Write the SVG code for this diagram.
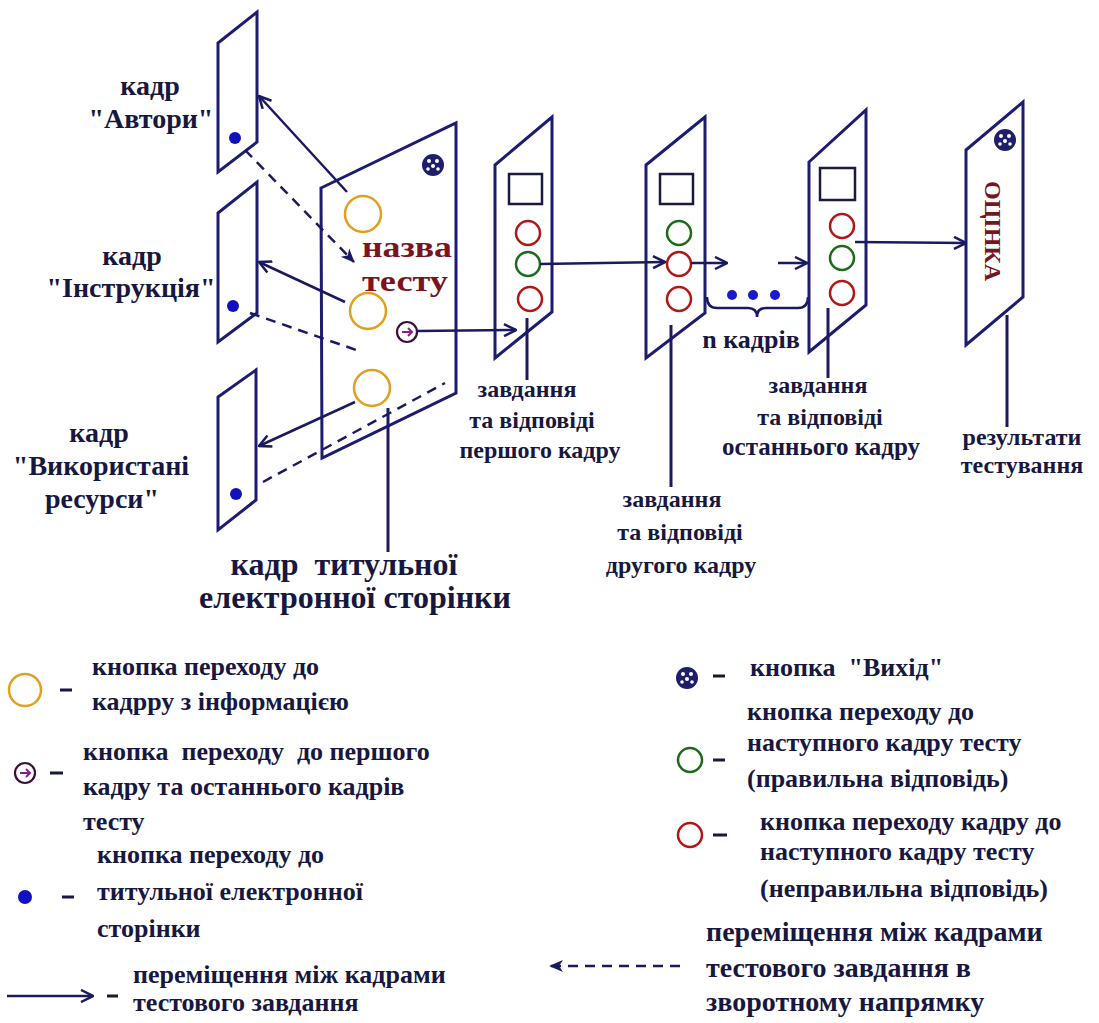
<svg xmlns="http://www.w3.org/2000/svg" width="1099" height="1023" viewBox="0 0 1099 1023">
  <defs>
    <style>
      .frame { fill: none; stroke: #1c1c70; stroke-width: 3; stroke-linejoin: miter; }
      .lbl { font-family: "Liberation Serif", "Times New Roman", serif; font-weight: bold; fill: #17173f; }
      .big { font-size: 32px; }
      .mid { font-size: 28px; }
      .leg { font-size: 26px; }
      .sm { font-size: 24px; }
      .title { font-family: "Liberation Serif", "Times New Roman", serif; font-weight: bold; fill: #7a1420; }
      .arrow { fill: none; stroke: #1a1a60; stroke-width: 2.5; marker-end: url(#chev); }
      .back { fill: none; stroke: #1a1a60; stroke-width: 2.5; stroke-dasharray: 10 7; }
      .callout { fill: none; stroke: #1a1a60; stroke-width: 3; }
      .info { fill: none; stroke: #e0a020; stroke-width: 2.5; }
      .wrong { fill: none; stroke: #b01818; stroke-width: 2.5; }
      .right { fill: none; stroke: #1b6b1b; stroke-width: 2.5; }
      .home { fill: #1010c0; }
      .dash { stroke: #17173f; stroke-width: 3; }
    </style>
    <marker id="chev" viewBox="0 0 14 14" refX="13" refY="7" markerWidth="14" markerHeight="14" orient="auto" markerUnits="userSpaceOnUse">
      <path d="M1,1 L13,7 L1,13" fill="none" stroke="#1a1a60" stroke-width="2.5"/>
    </marker>
    <marker id="solidhead" viewBox="0 0 14 14" refX="13" refY="7" markerWidth="14" markerHeight="14" orient="auto" markerUnits="userSpaceOnUse">
      <path d="M0,1 L14,7 L0,13 L4,7 Z" fill="#1a1a60"/>
    </marker>
    <g id="exitbtn">
      <circle r="11" fill="#1e1e6a"/>
      <circle cx="-4" cy="-4" r="2" fill="#ffffff"/>
      <circle cx="4" cy="-4" r="2" fill="#ffffff"/>
      <circle cx="0" cy="1" r="2" fill="#ffffff"/>
      <circle cx="-5" cy="4" r="1.8" fill="#ffffff"/>
      <circle cx="5" cy="4" r="1.8" fill="#ffffff"/>
    </g>
    <g id="nextbtn">
      <circle r="10" fill="none" stroke="#3b0f3b" stroke-width="2.2"/>
      <path d="M-5,0 L5,0 M1,-4 L5,0 L1,4" fill="none" stroke="#8a2080" stroke-width="2"/>
    </g>
  </defs>

  <rect width="1099" height="1023" fill="#ffffff"/>

  <!-- side information frames -->
  <g id="frame-authors">
    <polygon class="frame" points="218,43 257,12 257,142 218,172"/>
    <circle class="home" cx="235" cy="138" r="6"/>
    <text class="lbl mid" text-anchor="middle" x="150" y="95">кадр</text>
    <text class="lbl mid" text-anchor="middle" x="151" y="128">"Автори"</text>
  </g>

  <g id="frame-instruction">
    <polygon class="frame" points="218,213 257,182 257,313 218,342"/>
    <circle class="home" cx="233" cy="306" r="6"/>
    <text class="lbl mid" text-anchor="middle" x="132" y="265">кадр</text>
    <text class="lbl mid" text-anchor="middle" x="131" y="297">"Інструкція"</text>
  </g>

  <g id="frame-resources">
    <polygon class="frame" points="218,397 256,370 256,500 218,530"/>
    <circle class="home" cx="236" cy="494" r="6"/>
    <text class="lbl mid" text-anchor="middle" x="99" y="442">кадр</text>
    <text class="lbl mid" text-anchor="middle" x="101" y="475">"Використані</text>
    <text class="lbl mid" text-anchor="middle" x="102" y="508">ресурси"</text>
  </g>

  <!-- title page -->
  <g id="title-page">
    <polygon class="frame" points="321,188 456,123 456,393 322,458"/>
    <use href="#exitbtn" x="433" y="165"/>
    <circle class="info" cx="363" cy="214" r="18"/>
    <circle class="info" cx="368" cy="311" r="18"/>
    <circle class="info" cx="372" cy="388" r="18"/>
    <use href="#nextbtn" x="407" y="332"/>
    <text class="title" font-size="30" x="362" y="257" textLength="90" lengthAdjust="spacingAndGlyphs">назва</text>
    <text class="title" font-size="30" x="362" y="291" textLength="86" lengthAdjust="spacingAndGlyphs">тесту</text>
    <text class="lbl big" text-anchor="middle" x="344" y="575" xml:space="preserve">кадр  титульної</text>
    <text class="lbl big" text-anchor="middle" x="355" y="608">електронної сторінки</text>
  </g>

  <!-- test task frames -->
  <g id="task-first">
    <polygon class="frame" points="495,165 552,117 552,312 495,358"/>
    <rect x="509" y="174" width="33" height="30" fill="none" stroke="#1a1a40" stroke-width="2.5"/>
    <circle class="wrong" cx="528" cy="233" r="12"/>
    <circle class="right" cx="528" cy="264" r="12"/>
    <circle class="wrong" cx="530" cy="299" r="12" stroke="#c03a18"/>
    <text class="lbl sm" text-anchor="middle" x="527" y="397">завдання</text>
    <text class="lbl sm" text-anchor="middle" x="532" y="428">та відповіді</text>
    <text class="lbl sm" text-anchor="middle" x="540" y="458">першого кадру</text>
  </g>

  <g id="task-second">
    <polygon class="frame" points="646,165 705,117 705,313 646,358"/>
    <rect x="660" y="174" width="33" height="30" fill="none" stroke="#1a1a40" stroke-width="2.5"/>
    <circle class="right" cx="679" cy="233" r="12"/>
    <circle class="wrong" cx="679" cy="264" r="12"/>
    <circle class="wrong" cx="679" cy="299" r="12"/>
    <text class="lbl sm" text-anchor="middle" x="672" y="507">завдання</text>
    <text class="lbl sm" text-anchor="middle" x="680" y="540">та відповіді</text>
    <text class="lbl sm" text-anchor="middle" x="681" y="573">другого кадру</text>
  </g>

  <g id="task-gap">
    <circle cx="732" cy="295" r="5" fill="#1a1acc"/>
    <circle cx="753" cy="295" r="5" fill="#1a1acc"/>
    <circle cx="775" cy="295" r="5" fill="#1a1acc"/>
    <path d="M707,297 Q707,308 717,308 L748,308 Q757,308 757,317 Q757,308 766,308 L798,308 Q808,308 808,297" fill="none" stroke="#1a1a60" stroke-width="2.5"/>
    <text class="lbl" font-size="26" text-anchor="middle" x="751" y="348">n кадрів</text>
  </g>

  <g id="task-last">
    <polygon class="frame" points="809,162 866,110 866,305 809,352"/>
    <rect x="820" y="168" width="35" height="32" fill="none" stroke="#1a1a40" stroke-width="2.5"/>
    <circle class="wrong" cx="842" cy="226" r="12"/>
    <circle class="right" cx="842" cy="258" r="12"/>
    <circle class="wrong" cx="842" cy="293" r="12"/>
    <text class="lbl sm" text-anchor="middle" x="818" y="393">завдання</text>
    <text class="lbl sm" text-anchor="middle" x="820" y="425">та відповіді</text>
    <text class="lbl" font-size="25" text-anchor="middle" x="821" y="455">останнього кадру</text>
  </g>

  <g id="result">
    <polygon class="frame" points="966,150 1023,102 1023,297 966,345"/>
    <use href="#exitbtn" x="1005" y="140"/>
    <text class="title" font-size="24" text-anchor="middle" transform="translate(985,231) rotate(90)" x="0" y="0">ОЦІНКА</text>
    <text class="lbl sm" text-anchor="middle" x="1022" y="445">результати</text>
    <text class="lbl sm" text-anchor="middle" x="1022" y="473">тестування</text>
  </g>

  <!-- connectors -->
  <g id="connectors">
    <line class="arrow" x1="347" y1="192" x2="259" y2="96"/>
    <line class="arrow" x1="345" y1="302" x2="259" y2="262"/>
    <line class="arrow" x1="355" y1="402" x2="259" y2="446"/>
    <line class="back" x1="245" y1="150" x2="354" y2="262" marker-end="url(#solidhead)"/>
    <line class="back" x1="250" y1="313" x2="362" y2="352"/>
    <line class="back" x1="263" y1="482" x2="445" y2="383"/>
    <line class="arrow" x1="418" y1="331" x2="516" y2="330"/>
    <line class="arrow" x1="540" y1="264" x2="665" y2="262"/>
    <line class="arrow" x1="691" y1="263" x2="727" y2="263"/>
    <line class="arrow" x1="778" y1="263" x2="807" y2="263"/>
    <line class="arrow" x1="855" y1="242" x2="966" y2="243"/>
    <line class="callout" x1="388" y1="408" x2="388" y2="552"/>
    <line class="callout" x1="527" y1="318" x2="527" y2="380"/>
    <line class="callout" x1="671" y1="325" x2="671" y2="487"/>
    <line class="callout" x1="828" y1="308" x2="828" y2="378"/>
    <line class="callout" x1="1007" y1="315" x2="1007" y2="427"/>
  </g>

  <!-- legend, left column -->
  <g id="legend-info">
    <circle class="info" cx="25" cy="690" r="16"/>
    <line class="dash" x1="60" y1="690" x2="72" y2="690"/>
    <text class="lbl leg" x="92" y="675">кнопка переходу до</text>
    <text class="lbl leg" x="92" y="710">кадрру з інформацією</text>
  </g>
  <g id="legend-next">
    <use href="#nextbtn" x="25" y="773"/>
    <line class="dash" x1="50" y1="773" x2="63" y2="773"/>
    <text class="lbl leg" x="83" y="760" xml:space="preserve">кнопка  переходу  до першого</text>
    <text class="lbl leg" x="83" y="795">кадру та останнього кадрів</text>
    <text class="lbl leg" x="83" y="830">тесту</text>
  </g>
  <g id="legend-home">
    <circle class="home" cx="25" cy="897" r="7"/>
    <line class="dash" x1="62" y1="897" x2="74" y2="897"/>
    <text class="lbl leg" x="97" y="863">кнопка переходу до</text>
    <text class="lbl leg" x="97" y="900">титульної електронної</text>
    <text class="lbl leg" x="97" y="937">сторінки</text>
  </g>
  <g id="legend-forward">
    <line class="arrow" x1="7" y1="996" x2="93" y2="996"/>
    <line class="dash" x1="107" y1="996" x2="118" y2="996"/>
    <text class="lbl leg" x="133" y="983">переміщення між кадрами</text>
    <text class="lbl leg" x="133" y="1011">тестового завдання</text>
  </g>

  <!-- legend, right column -->
  <g id="legend-exit">
    <use href="#exitbtn" x="687" y="678"/>
    <line class="dash" x1="713" y1="676" x2="725" y2="676"/>
    <text class="lbl leg" x="750" y="676" xml:space="preserve">кнопка  "Вихід"</text>
  </g>
  <g id="legend-right">
    <circle class="right" cx="690" cy="760" r="12"/>
    <line class="dash" x1="713" y1="760" x2="725" y2="760"/>
    <text class="lbl leg" x="747" y="720">кнопка переходу до</text>
    <text class="lbl leg" x="747" y="751">наступного кадру тесту</text>
    <text class="lbl leg" x="747" y="787">(правильна відповідь)</text>
  </g>
  <g id="legend-wrong">
    <circle class="wrong" cx="690" cy="835" r="12"/>
    <line class="dash" x1="713" y1="835" x2="727" y2="835"/>
    <text class="lbl leg" x="760" y="830">кнопка переходу кадру до</text>
    <text class="lbl leg" x="760" y="860">наступного кадру тесту</text>
    <text class="lbl leg" x="760" y="897">(неправильна відповідь)</text>
  </g>
  <g id="legend-back">
    <line class="back" x1="680" y1="966" x2="550" y2="966" stroke-dasharray="12 8" marker-end="url(#solidhead)"/>
    <text class="lbl mid" x="706" y="941">переміщення між кадрами</text>
    <text class="lbl mid" x="706" y="977">тестового завдання в</text>
    <text class="lbl mid" x="706" y="1011">зворотному напрямку</text>
  </g>
</svg>
